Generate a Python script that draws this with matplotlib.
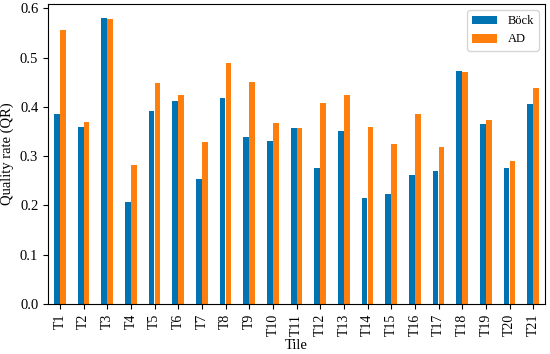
import numpy as np
import matplotlib.pyplot as plt

plt.rcParams['font.family'] = ['Liberation Serif', 'DejaVu Serif']

tiles = ['T%d' % i for i in range(1, 22)]
bock = [0.385, 0.360, 0.580, 0.208, 0.391, 0.413, 0.254, 0.418, 0.339, 0.331,
        0.357, 0.277, 0.352, 0.216, 0.224, 0.261, 0.271, 0.472, 0.366, 0.277, 0.406]
ad = [0.556, 0.369, 0.579, 0.283, 0.448, 0.425, 0.328, 0.489, 0.450, 0.367,
      0.357, 0.408, 0.425, 0.360, 0.324, 0.385, 0.318, 0.471, 0.373, 0.291, 0.439]

fig = plt.figure(figsize=(5.5, 3.54), dpi=100)
ax = fig.add_axes([48 / 550, 50 / 354, 497 / 550, 300 / 354])

x = np.arange(len(tiles))
w = 0.25
ax.bar(x - w / 2, bock, w, color='#0173b2', label='Böck')
ax.bar(x + w / 2, ad, w, color='#ff7f0e', label='AD')

ax.set_xticks(x)
ax.set_xticklabels(tiles, rotation=90, fontsize=10)
ax.set_xlim(-0.5, len(tiles) - 0.5)
ax.set_ylim(0, 0.609)
ax.set_yticks(np.arange(0, 0.61, 0.1))
ax.tick_params(axis='y', labelsize=10.5)
ax.set_xlabel('Tile', fontsize=10.5, labelpad=2)
ax.set_ylabel('Quality rate (QR)', fontsize=10.5)
ax.legend(loc='upper right', fontsize=9)

fig.savefig('out.png', dpi=100)
